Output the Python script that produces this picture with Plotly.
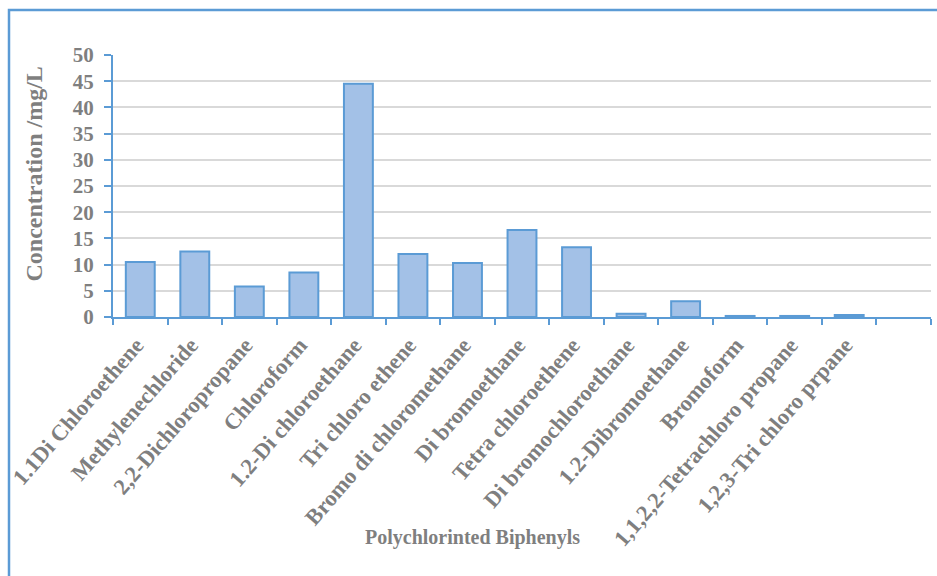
import plotly.graph_objects as go

categories = ["1.1Di Chloroethene", "Methylenechloride", "2,2-Dichloropropane", "Chloroform",
              "1.2-Di chloroethane", "Tri chloro ethene", "Bromo di chloromethane", "Di bromoethane",
              "Tetra chloroethene", "Di bromochloroethane", "1.2-Dibromoethane", "Bromoform",
              "1,1,2,2-Tetrachloro propane", "1,2,3-Tri chloro prpane", " "]
values = [10.5, 12.5, 5.8, 8.5, 44.5, 12.0, 10.3, 16.6, 13.3, 0.6, 3.0, 0.2, 0.2, 0.4, None]
y_ticks = [0, 5, 10, 15, 20, 25, 30, 35, 40, 45, 50]

TXT = "#7f7f7f"
BLUE = "#5b9bd5"
FONT = "Liberation Serif"

fig = go.Figure(go.Bar(
    x=categories, y=values,
    marker=dict(color="#a3c1e7", line=dict(color=BLUE, width=2)),
))

fig.update_layout(
    width=937, height=576,
    margin=dict(l=113, r=6, t=55, b=259),
    paper_bgcolor="white", plot_bgcolor="white",
    bargap=0.47,
    showlegend=False,
    font=dict(family=FONT, color=TXT),
    xaxis=dict(
        type="category", tickangle=-49, tickson="boundaries",
        ticks="outside", ticklen=6, tickcolor=BLUE, tickwidth=1.5,
        showline=True, linecolor=BLUE, linewidth=2,
        showgrid=False,
        ticklabelstandoff=4, ticklabelshift=-4,
        tickfont=dict(family=FONT, size=22.5, color=TXT, weight="bold"),
    ),
    yaxis=dict(
        range=[0, 50], tickvals=y_ticks,
        ticks="outside", ticklen=7, tickcolor=BLUE, tickwidth=1.5,
        showline=True, linecolor=BLUE, linewidth=2,
        showgrid=True, gridcolor="#d9d9d9", gridwidth=1.5,
        zeroline=False,
        ticklabelstandoff=6,
        tickfont=dict(family=FONT, size=21, color=TXT, weight="bold"),
    ),
    annotations=[
        dict(text="Concentration /mg/L", xref="paper", yref="paper",
             x=(33 - 113) / 818, y=(317 - 174.5) / 262, xanchor="center", yanchor="middle",
             textangle=-90, showarrow=False,
             font=dict(family=FONT, size=24, color=TXT, weight="bold")),
        dict(text="Polychlorinted Biphenyls", xref="paper", yref="paper",
             x=(472 - 113) / 818, y=(317 - 537) / 262, xanchor="center", yanchor="middle",
             showarrow=False,
             font=dict(family=FONT, size=20, color=TXT, weight="bold")),
    ],
    shapes=[
        dict(type="rect", xref="paper", yref="paper",
             x0=(9 - 113) / 818, x1=(945 - 113) / 818,
             y0=(317 - 590) / 262, y1=(317 - 10) / 262,
             line=dict(color=BLUE, width=2.5), fillcolor="rgba(0,0,0,0)"),
    ],
)

fig.write_html("out.html")
